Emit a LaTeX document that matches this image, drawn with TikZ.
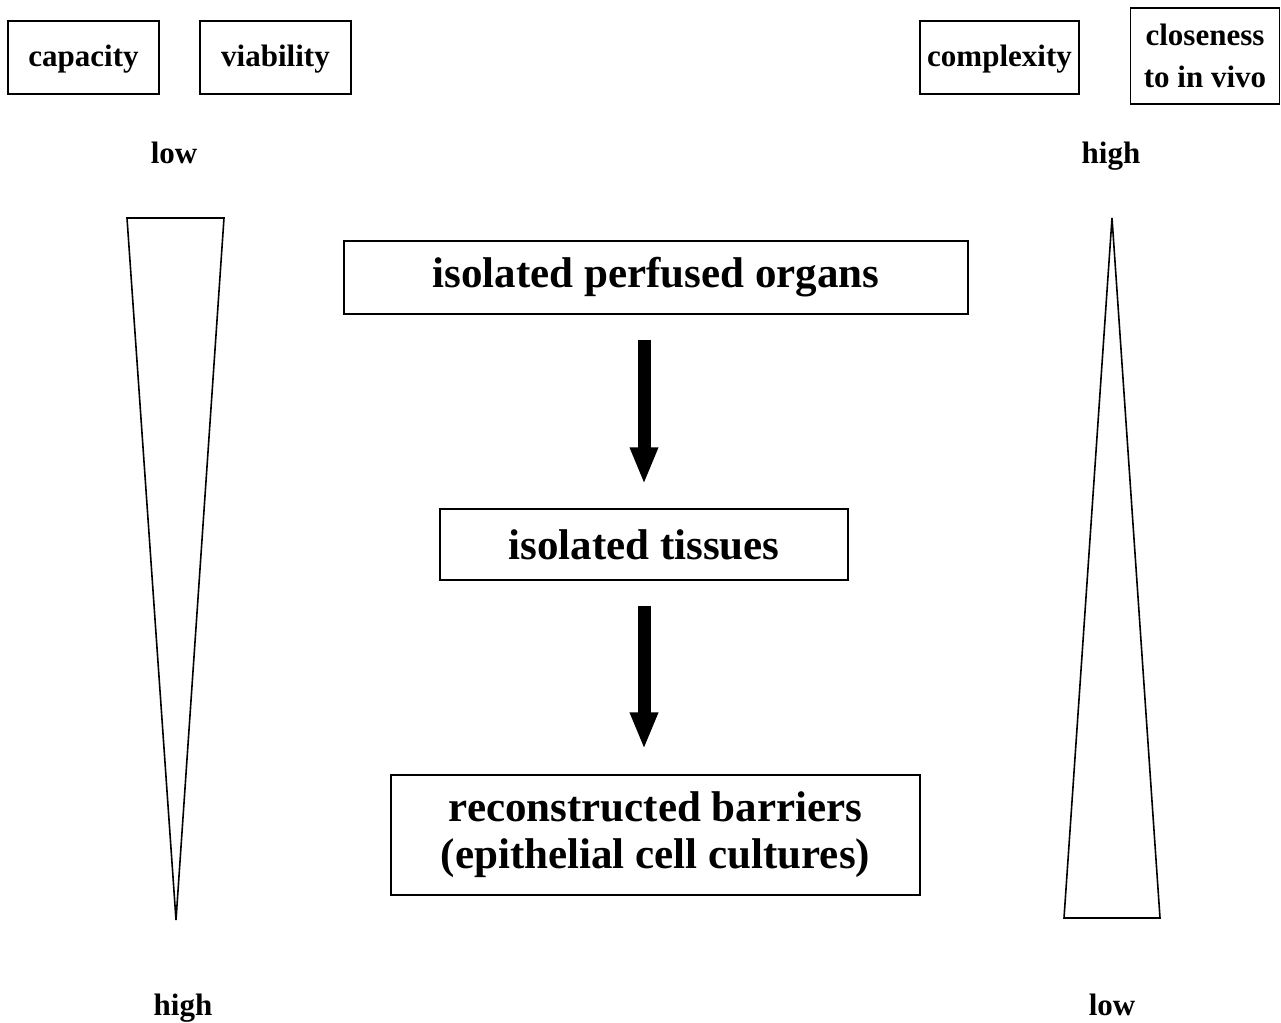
\documentclass[tikz,border=0pt]{standalone}
\usepackage{fontspec}
\setmainfont{Liberation Serif}
\usetikzlibrary{arrows.meta}
\begin{document}
\begin{tikzpicture}[x=1pt,y=-1pt,
  smallbox/.style={draw, line width=1.5pt, inner sep=0pt, align=center, font=\fontsize{31}{42}\selectfont\bfseries},
  oneline/.style={text height=21pt, text depth=2pt},
  bigbox/.style={draw, line width=1.5pt, inner sep=0pt, align=center, font=\fontsize{43}{47}\selectfont\bfseries},
  lbl/.style={inner sep=0pt, text height=21pt, text depth=7pt, font=\fontsize{31}{36}\selectfont\bfseries},
  wedge/.style={draw, line width=1.6pt, line join=miter},
  blockarrow/.style={line width=13pt, -{Triangle[width=26pt,length=37pt]}, shorten <=25pt, shorten >=24pt}]
\useasboundingbox (0,0) rectangle (1281,1022);
\node[smallbox, oneline, minimum width=151pt, minimum height=73pt] (capacity) at (83.5,57.5) {capacity};
\node[smallbox, oneline, minimum width=151pt, minimum height=73pt] (viability) at (275.5,57.5) {viability};
\node[smallbox, oneline, minimum width=159pt, minimum height=73pt] (complexity) at (999.5,57.5) {complexity};
\node[smallbox, minimum width=149pt, minimum height=96pt] (closeness) at (1205,56) {closeness\\to in vivo};
\node[lbl] (lowtop) at (174,156) {low};
\node[lbl] (hightop) at (1111,156) {high};
\node[lbl] (highbot) at (183,1008) {high};
\node[lbl] (lowbot) at (1112,1008) {low};
\node[bigbox, minimum width=624pt, minimum height=73pt] (organs) at (656,277.5) {isolated perfused organs};
\node[bigbox, minimum width=408pt, minimum height=71pt] (tissues) at (644,544.5) {isolated tissues};
\node[bigbox, minimum width=529pt, minimum height=120pt] (barriers) at (655.5,835) {reconstructed barriers\\(epithelial cell cultures)};
\draw[blockarrow] (organs.south -| tissues.center) -- (tissues.north);
\draw[blockarrow, shorten >=25pt] (tissues.south) -- (tissues.south |- barriers.north);
\coordinate (lt1) at (127,218);
\coordinate (lt2) at (224,218);
\coordinate (lt3) at (176,920);
\draw[wedge] (lt1) -- (lt2) -- (lt3) -- cycle;
\coordinate (rt1) at (1064,918);
\coordinate (rt2) at (1160,918);
\coordinate (rt3) at (1112,218);
\draw[wedge] (rt1) -- (rt2) -- (rt3) -- cycle;
\end{tikzpicture}
\end{document}
